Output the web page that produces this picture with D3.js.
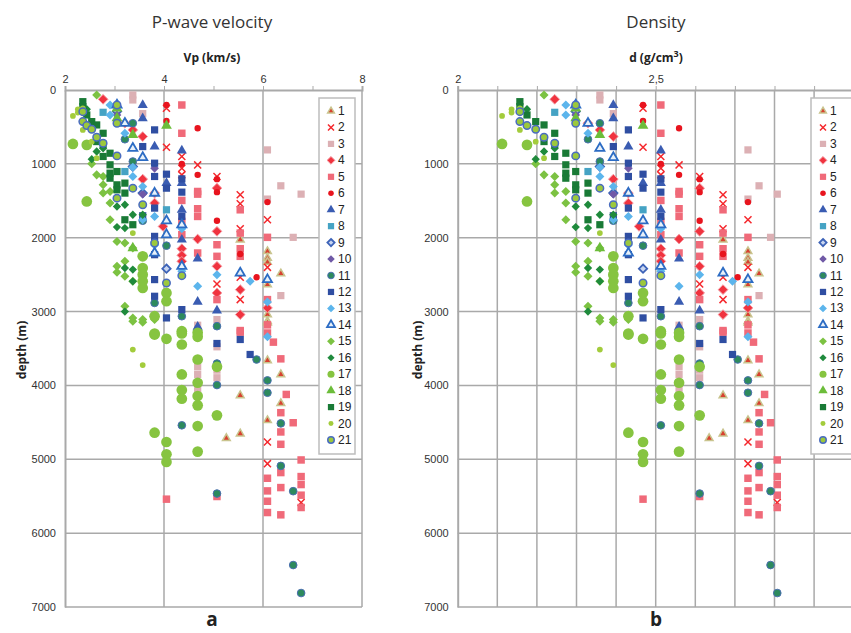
<!DOCTYPE html>
<meta charset="utf-8">
<head>
<style>
  body { margin: 0; background: #fff; }
  svg { display: block; }
  .tick text { font-family: "Liberation Sans", Arial, sans-serif; font-size: 11px; fill: #333; }
  .ttl { font-family: "Open Sans", "Noto Sans", sans-serif; font-size: 17px; fill: #333; }
  .axl { font-family: "Open Sans", "Noto Sans", sans-serif; font-size: 12px; font-weight: bold; fill: #222; }
  .lab { font-family: "Open Sans", "Noto Sans", sans-serif; font-size: 19px; font-weight: bold; fill: #222; }
  .leg { font-family: "Liberation Sans", Arial, sans-serif; font-size: 12px; fill: #222; }
</style>
</head>
<body>
<div id="chart"></div>
<script src="https://d3js.org/d3.v7.min.js"></script>
<script>

// value columns (velocity km/s and density g/cm3)
var vpCols = [2.16, 2.26, 2.36, 2.44, 2.54, 2.64, 2.77, 2.91, 3.05, 3.21, 3.37, 3.57, 3.81, 3.98,
              4.05, 4.36, 4.68, 5.07, 5.26, 5.54, 5.74, 5.87, 6.09, 6.21, 6.36, 6.47, 6.61, 6.77];
var dCols  = [2.112, 2.136, 2.157, 2.175, 2.197, 2.218, 2.245, 2.273, 2.298, 2.329, 2.359, 2.393, 2.431, 2.458,
              2.468, 2.513, 2.559, 2.611, 2.635, 2.670, 2.694, 2.707, 2.733, 2.747, 2.761, 2.775, 2.790, 2.807];

// series: [column index, depth m]
var s1 = [[19,2027],[22,2185],[22,2275],[22,2330],[22,2635],[22,3041],[22,3131],[24,2486],[18,4716],[19,4135],
          [19,4653],[22,3153],[22,3662],[22,4473],[24,3851],[24,4243],[16,4270]];
var s2 = [[14,248],[14,775],[15,901],[15,1059],[15,1149],[16,1014],[17,1171],[17,2626],[19,1419],[19,1540],
          [19,1878],[19,2536],[19,2838],[22,1757],[22,2401],[22,4766],[22,5059],[27,5585]];
var s3 = [[10,68],[10,135],[11,320],[22,811],[22,1477],[24,1297],[26,1995],[27,1410],[24,2784],[16,3185],
          [17,3108],[16,3748],[16,3851],[16,4045],[17,3477],[17,3793],[17,3896]];
var s4 = [[6,126],[9,450],[10,540],[11,630],[11,1207],[12,1396],[12,1531],[13,1847],[15,2149],[15,2239],
          [15,2320],[16,2018],[17,1329],[17,1914],[17,2387],[17,2748],[19,2703],[19,3041],[22,2950]];
var s5 = [[15,203],[15,586],[15,1495],[15,1779],[15,1959],[16,1374],[16,1410],[16,1608],[16,1712],[16,2207],
          [17,2095],[17,2252],[17,2838],[19,1622],[19,1937],[19,2149],[19,2252],[19,3257],[22,1995],[22,2838],
          [22,3180],[22,3290],[19,3279],[23,3414],[24,3640],[24,4369],[24,4630],[24,4797],[24,5180],[24,5383],
          [24,5752],[25,4122],[26,4505],[27,5009],[27,5234],[27,5342],[27,5486],[27,5653],[22,5257],[22,5428],
          [22,5568],[22,5721],[14,5540],[17,5504]];
var s6 = [[14,203],[14,419],[15,1000],[16,518],[16,1149],[17,1207],[17,1383],[17,1770],[19,2221],[21,2536],[22,1518]];
var s7 = [[11,203],[11,383],[12,766],[15,820],[15,1261],[15,1622],[15,2027],[16,2284],[16,2869],[16,3221],
          [17,2986],[14,1261],[16,3207]];
var s8 = [[14,1622],[9,1104],[6,302]];
var s9 = [[8,290],[11,1396],[14,2419],[10,1036]];
var s10 = [[8,338],[8,405],[11,1410],[12,1060]];
var s11 = [[10,450],[10,968],[9,667],[12,2883],[14,2108],[15,3063],[17,3198],[17,3703],[17,3995],[17,5464],
           [15,4540],[21,3649],[22,3932],[22,4099],[24,4514],[24,5090],[26,5432],[26,6432],[27,6811],[11,1770]];
var s12 = [[12,540],[12,991],[12,1171],[12,1599],[12,1982],[12,2230],[12,2567],[12,2793],[14,1140],[14,1329],
           [14,3086],[15,1203],[15,1383],[15,1712],[15,2973],[11,766],[11,1703],[17,3432],[19,3378],[20,3581]];
var s13 = [[7,203],[7,338],[9,586],[10,1045],[10,1171],[11,1306],[11,1757],[12,1712],[15,1878],[15,2455],
           [16,2658],[17,2500],[20,2590],[22,2869],[22,3342],[12,2100]];
var s14 = [[8,203],[9,450],[10,788],[11,914],[12,2207],[14,1770],[14,1959],[15,1824],[15,2387],[19,2477],
           [22,2567],[12,1396]];
var s15 = [[5,68],[6,1171],[6,1284],[6,1396],[7,1374],[7,1531],[7,1757],[8,2050],[8,2387],[8,2468],[9,2072],
           [9,2320],[9,2522],[9,2928],[10,3086],[10,3131],[11,3144],[12,3108],[5,1149],[4,1000],[10,2140],
           [10,2590],[11,3108]];
var s16 = [[3,261],[4,937],[5,833],[6,790],[8,1577],[8,1856],[9,1554],[9,1869],[9,3000],[10,1689],[10,2432],
           [10,2590],[11,1689],[9,2410]];
var s17 = [[0,730],[3,743],[3,1509],[11,2252],[11,2410],[11,2500],[11,2590],[11,2680],[12,3063],[12,3311],
           [14,2748],[14,2860],[15,3266],[16,3288],[12,3297],[12,4640],[14,3369],[14,4766],[14,4932],[14,5036],
           [15,3297],[15,3446],[15,3851],[15,4063],[15,4180],[16,3342],[16,3649],[16,3964],[16,4144],[16,4270],
           [16,4550],[16,4896],[17,3748],[17,4405]];
var s18 = [[8,248],[8,380],[10,608],[14,482],[10,2140]];
var s19 = [[2,158],[2,225],[3,338],[4,428],[5,473],[5,698],[6,586],[6,734],[6,900],[7,856],[7,1013],[7,1126],
           [7,1194],[8,1104],[8,1284],[8,1351],[9,1261],[9,1757],[10,1824],[9,1396]];
var s20 = [[0,351],[1,261],[1,306],[2,250],[2,290],[2,540],[4,700],[10,3514],[11,3725],[10,1937],[5,923]];
var s21 = [[2,293],[2,428],[3,482],[4,531],[5,640],[6,721],[8,203],[8,892],[8,1464],[10,1329],[11,1554],
           [12,2072],[14,2613],[15,2514],[8,450]];

var seriesNames = ["1","2","3","4","5","6","7","8","9","10","11","12","13","14","15","16","17","18","19","20","21"];
var seriesData = [s1,s2,s3,s4,s5,s6,s7,s8,s9,s10,s11,s12,s13,s14,s15,s16,s17,s18,s19,s20,s21];
var depthTicks = [0, 1000, 2000, 3000, 4000, 5000, 6000, 7000];

var dia = d3.symbolDiamond2 || d3.symbolDiamond;
var styles = [
  {t: d3.symbolTriangle, s: 26, f: "#d8412f", k: "#c9c48e", w: 1.5},
  {t: d3.symbolTimes || d3.symbolCross, s: 34, f: "none", k: "#f5282d", w: 1.5, x: 1},
  {t: d3.symbolSquare, s: 52, f: "#dcb0b4", k: "none", w: 0},
  {t: dia, s: 60, f: "#f0333f", k: "#f59aa2", w: 1},
  {t: d3.symbolSquare, s: 56, f: "#f06a79", k: "none", w: 0},
  {t: d3.symbolCircle, s: 32, f: "#e8141e", k: "none", w: 0},
  {t: d3.symbolTriangle, s: 44, f: "#3a5cb2", k: "none", w: 0},
  {t: d3.symbolSquare, s: 52, f: "#45a3c4", k: "none", w: 0},
  {t: dia, s: 44, f: "#c9d6f0", k: "#3d63b8", w: 1.8},
  {t: dia, s: 48, f: "#7059a6", k: "none", w: 0},
  {t: d3.symbolCircle, s: 46, f: "#2d8a5d", k: "#4a6fb0", w: 1},
  {t: d3.symbolSquare, s: 52, f: "#2f4ea2", k: "none", w: 0},
  {t: dia, s: 52, f: "#5cb5ec", k: "none", w: 0},
  {t: d3.symbolTriangle, s: 36, f: "#e8f1fa", k: "#2c6cc4", w: 1.8},
  {t: dia, s: 52, f: "#7cc242", k: "none", w: 0},
  {t: dia, s: 44, f: "#1f8a3c", k: "none", w: 0},
  {t: d3.symbolCircle, s: 90, f: "#86c440", k: "none", w: 0},
  {t: d3.symbolTriangle, s: 50, f: "#6cbd3a", k: "none", w: 0},
  {t: d3.symbolSquare, s: 52, f: "#197a36", k: "none", w: 0},
  {t: d3.symbolCircle, s: 26, f: "#a3cc3c", k: "none", w: 0},
  {t: d3.symbolCircle, s: 44, f: "#9cc83c", k: "#4a6cc0", w: 1.5}
];

var svg = d3.select("#chart").append("svg").attr("width", 851).attr("height", 633);
var y = d3.scaleLinear().domain([0, 7000]).range([90, 607]);
var gridCol = "#a9a9a9";

function panel(opt) {
  var x = opt.x, g = svg.append("g");
  var x0 = x.range()[0];
  // horizontal grid
  g.selectAll(".hg").data(depthTicks.slice(1)).enter().append("line")
    .attr("x1", x0).attr("x2", opt.right).attr("y1", y).attr("y2", y)
    .attr("stroke", gridCol).attr("stroke-width", 1.5);
  // vertical grid
  g.selectAll(".vg").data(opt.grid).enter().append("line")
    .attr("x1", x).attr("x2", x).attr("y1", 90).attr("y2", 607)
    .attr("stroke", gridCol).attr("stroke-width", 1.5);
  // axes
  g.append("g").attr("transform", "translate(0,90)")
    .call(d3.axisTop(x).tickValues(opt.ticks).tickSize(4).tickPadding(3).tickFormat(opt.fmt))
    .call(function (a) { a.select(".domain").attr("stroke", gridCol).attr("stroke-width", 2); a.selectAll("line").attr("stroke", gridCol); });
  g.append("g").attr("transform", "translate(" + x0 + ",0)")
    .call(d3.axisLeft(y).tickValues(depthTicks).tickSize(0).tickPadding(opt.pad).tickFormat(d3.format("d")))
    .call(function (a) { a.select(".domain").attr("stroke", gridCol).attr("stroke-width", 2); });

  // points
  seriesData.forEach(function (pts, i) {
    var st = styles[i];
    g.selectAll(".p" + i).data(pts).enter().append("path")
      .attr("d", d3.symbol().type(st.t).size(st.s))
      .attr("transform", function (d) { return "translate(" + x(opt.cols[d[0]]) + "," + y(d[1]) + ")"; })
      .attr("fill", st.x ? "none" : st.f)
      .attr("stroke", st.k)
      .attr("stroke-width", st.w);
  });

  // legend
  var lg = g.append("g");
  lg.append("rect").attr("x", opt.lx).attr("y", 98).attr("width", opt.lw).attr("height", 356)
    .attr("fill", "#fff").attr("stroke", "#bdbdbd").attr("stroke-width", 1.5);
  seriesNames.forEach(function (n, i) {
    var st = styles[i], yy = 111 + i * 16.45;
    lg.append("path").attr("d", d3.symbol().type(st.t).size(Math.min(st.s, 52) * 0.75))
      .attr("transform", "translate(" + (opt.lx + 12) + "," + yy + ")")
      .attr("fill", st.x ? "none" : st.f).attr("stroke", st.k).attr("stroke-width", st.w);
    lg.append("text").attr("class", "leg").attr("x", opt.lx + 19).attr("y", yy + 4).text(n);
  });

  // titles
  svg.append("text").attr("class", "ttl").attr("x", opt.cx).attr("y", 28).attr("text-anchor", "middle").text(opt.title);
  svg.append("text").attr("class", "axl").attr("x", opt.cx).attr("y", 62).attr("text-anchor", "middle").html(opt.xlab);
  svg.append("text").attr("class", "axl").attr("transform", "translate(" + opt.ylx + ",350) rotate(-90)")
    .attr("text-anchor", "middle").text("depth (m)");
  svg.append("text").attr("class", "lab").attr("x", opt.cx).attr("y", 626).attr("text-anchor", "middle").text(opt.tag);
}

var xV = d3.scaleLinear().domain([2, 8]).range([65, 362]);
panel({
  x: xV, cols: vpCols, right: 362, grid: [4, 6, 8], ticks: [2, 3, 4, 5, 6, 7, 8],
  fmt: function (d) { return d % 2 === 0 ? d : ""; }, pad: 9,
  lx: 319, lw: 36, cx: 212, title: "P-wave velocity", xlab: "Vp (km/s)", ylx: 26, tag: "a"
});

var xD = d3.scaleLinear().domain([2, 3]).range([457.7, 853.7]);
panel({
  x: xD, cols: dCols, right: 851, grid: d3.range(2.1, 3.01, 0.1), ticks: d3.range(2, 3.01, 0.1),
  fmt: function (d) { return Math.abs(d - 2) < 1e-6 ? "2" : (Math.abs(d - 2.5) < 1e-6 ? "2,5" : ""); }, pad: 9,
  lx: 811, lw: 44, cx: 656, title: "Density",
  xlab: 'd (g/cm<tspan dy="-5" font-size="9px">3</tspan><tspan dy="5">)</tspan>', ylx: 422, tag: "b"
});

</script>
</body>
